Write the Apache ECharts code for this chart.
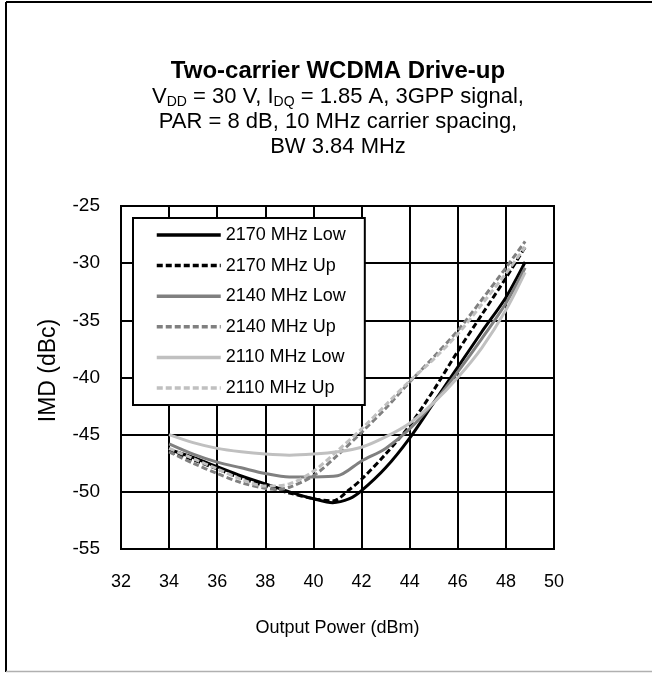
<!DOCTYPE html>
<html>
<head>
<meta charset="utf-8">
<script src="https://cdn.jsdelivr.net/npm/echarts@6/dist/echarts.min.js"></script>
<style>
html,body{margin:0;padding:0;background:#fff;}
#chart{width:652px;height:673px;}
</style>
</head>
<body>
<div id="chart"></div>
<script>
// ---- data ----
var seriesNames = ['2170 MHz Low','2170 MHz Up','2140 MHz Low','2140 MHz Up','2110 MHz Low','2110 MHz Up'];

var low2170 = [[34,-46.3],[35,-47.0],[36,-47.8],[37,-48.6],[38,-49.3],[39,-50.0],[40,-50.6],[40.8,-50.95],[41.5,-50.6],[42,-49.9],[43,-47.9],[44,-45.3],[45,-42.2],[46,-39.1],[47,-36.0],[48,-33.0],[48.8,-29.9]];
var up2170 = [[34,-46.5],[35,-47.2],[36,-48.0],[37,-48.8],[38,-49.5],[39,-50.1],[40,-50.6],[40.8,-50.8],[41.5,-49.8],[42,-48.9],[43,-46.7],[44,-44.2],[45,-41.1],[46,-37.7],[47,-34.5],[48,-31.3],[48.8,-28.6]];
var low2140 = [[34,-45.8],[35,-46.7],[36,-47.4],[37,-47.9],[38,-48.4],[39,-48.7],[40,-48.7],[41,-48.6],[42,-47.3],[43,-46.2],[44,-44.5],[45,-42.2],[46,-39.5],[47,-36.6],[48,-33.5],[48.8,-30.4]];
var up2140 = [[34,-46.5],[35,-47.5],[36,-48.4],[37,-49.2],[38,-49.7],[38.5,-49.8],[39,-49.6],[40,-48.6],[41,-46.8],[42,-44.8],[43,-42.7],[44,-40.4],[45,-38.2],[46,-35.9],[47,-33.2],[48,-30.4],[48.8,-28.1]];
var low2110 = [[34,-45.0],[35,-45.7],[36,-46.2],[37,-46.5],[38,-46.7],[39,-46.8],[40,-46.7],[41,-46.5],[42,-46.1],[43,-45.2],[44,-44.0],[45,-42.2],[46,-40.0],[47,-37.4],[48,-34.1],[48.8,-30.8]];
var up2110 = [[34,-46.2],[35,-47.1],[36,-48.0],[37,-48.9],[38,-49.5],[39,-49.3],[40,-48.2],[41,-46.4],[42,-44.5],[43,-42.4],[44,-40.3],[45,-38.4],[46,-36.2],[47,-33.6],[48,-30.9],[48.8,-28.6]];

var xTicks = {min:32, max:50, interval:2};
var yTicks = {min:-55, max:-25, interval:5};

var titleText = 'Two-carrier WCDMA Drive-up';
var subLines = ['V{s|DD} = 30 V, I{s|DQ} = 1.85 A, 3GPP signal,', 'PAR = 8 dB, 10 MHz carrier spacing,', 'BW 3.84 MHz'];
var xName = 'Output Power (dBm)';
var yName = 'IMD (dBc)';

// ---- chart ----
var FONT = 'Liberation Sans, Arial, sans-serif';
var chart = echarts.init(document.getElementById('chart'), null, {renderer:'canvas'});
var allData = [low2170, up2170, low2140, up2140, low2110, up2110];
var colors = ['#000000','#000000','#808080','#808080','#c0c0c0','#c0c0c0'];
var dashed = [false,true,false,true,false,true];

var series = allData.map(function(d,i){
  return {
    name: seriesNames[i], type:'line', data:d, smooth:0.3, symbol:'none', showSymbol:false,
    lineStyle:{color:colors[i], width:3, type: dashed[i] ? [6,3] : 'solid'},
    itemStyle:{color:colors[i]}
  };
});

chart.setOption({
  animation:false,
  backgroundColor:'#fff',
  title:[{
    text: titleText, left:338, top:59.5, textAlign:'center', padding:0,
    textStyle:{fontFamily:FONT, fontWeight:'bold', fontSize:24, lineHeight:24, color:'#000'}
  },{
    text: subLines.join('\n'), left:338, top:84.5, textAlign:'center', padding:0,
    textStyle:{fontFamily:FONT, fontWeight:'normal', fontSize:22, color:'#000', lineHeight:25,
      rich:{s:{fontFamily:FONT, fontSize:14, verticalAlign:'bottom', lineHeight:25}}}
  }],
  grid:{left:121, top:206, width:433, height:343, show:true, borderColor:'#000', borderWidth:2, containLabel:false},
  legend:{
    orient:'vertical', left:133, top:218, data:seriesNames,
    backgroundColor:'#fff', borderColor:'#000', borderWidth:2,
    padding:[8,19,8,22], itemWidth:64, itemHeight:14, itemGap:12.6,
    itemStyle:{opacity:0},
    lineStyle:{width:3.5},
    textStyle:{fontFamily:FONT, fontSize:18, color:'#000'}
  },
  xAxis:{
    type:'value', min:xTicks.min, max:xTicks.max, interval:xTicks.interval,
    name:xName, nameLocation:'middle', nameGap:70,
    nameTextStyle:{fontFamily:FONT, fontSize:18, color:'#000'},
    axisLine:{show:true, lineStyle:{color:'#000', width:2}},
    axisTick:{show:false},
    axisLabel:{fontFamily:FONT, fontSize:18, color:'#000', margin:24},
    splitLine:{show:true, lineStyle:{color:'#000', width:2}}
  },
  yAxis:{
    type:'value', min:yTicks.min, max:yTicks.max, interval:yTicks.interval,
    name:yName, nameLocation:'middle', nameGap:61,
    nameTextStyle:{fontFamily:FONT, fontSize:23, color:'#000', padding:[0,0,0,14]},
    axisLine:{show:true, lineStyle:{color:'#000', width:2}},
    axisTick:{show:false},
    axisLabel:{fontFamily:FONT, fontSize:19, color:'#000', margin:21},
    splitLine:{show:true, lineStyle:{color:'#000', width:2}}
  },
  graphic:[
    {type:'line', shape:{x1:6, y1:2, x2:6, y2:672}, style:{stroke:'#000', lineWidth:2}, silent:true},
    {type:'line', shape:{x1:6, y1:2, x2:652, y2:2}, style:{stroke:'#000', lineWidth:2}, silent:true},
    {type:'line', shape:{x1:6, y1:671.5, x2:652, y2:671.5}, style:{stroke:'#b0b0b0', lineWidth:1.5}, silent:true}
  ],
  series: series
});
</script>
</body>
</html>
